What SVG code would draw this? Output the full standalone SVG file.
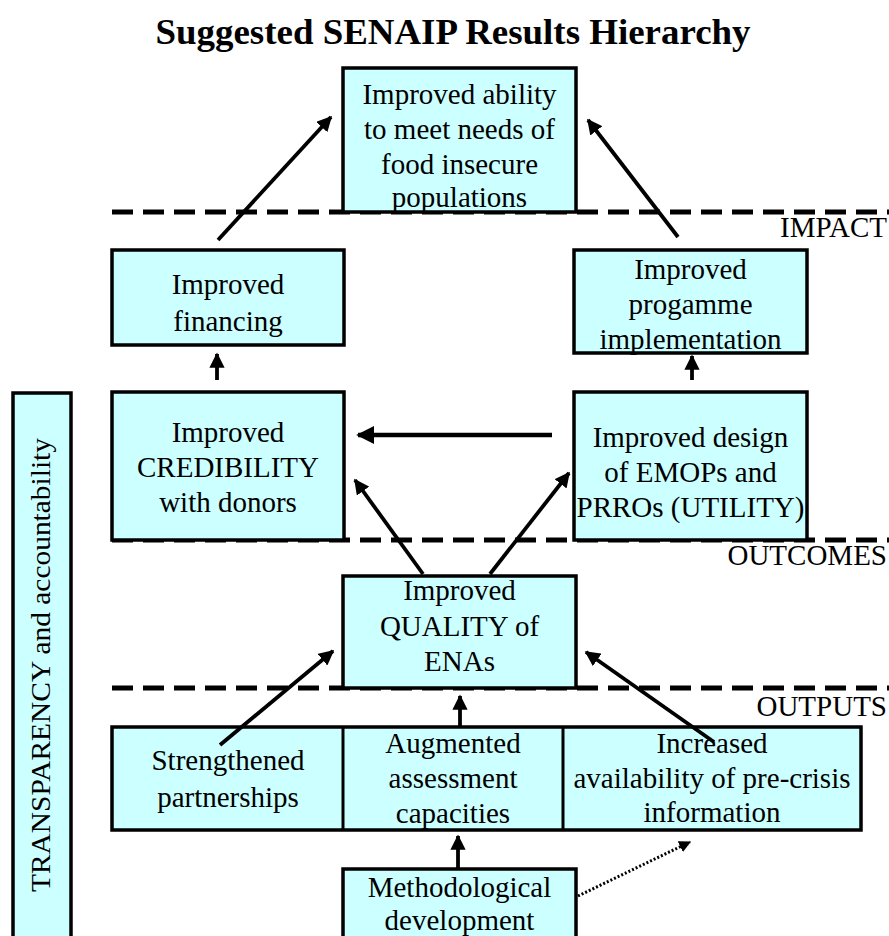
<svg xmlns="http://www.w3.org/2000/svg" width="889" height="936" viewBox="0 0 889 936">
<defs>
<marker id="ah" viewBox="0 0 10 10" refX="9" refY="5" markerWidth="4" markerHeight="4" orient="auto" markerUnits="strokeWidth">
<path d="M0,0 L10,5 L0,10 z" fill="#000"/>
</marker>
<style>
.box{fill:#CCFFFF;stroke:#000;stroke-width:3.5}
.dash{stroke:#000;stroke-width:5;stroke-dasharray:21 10;fill:none}
.ar{stroke:#000;stroke-width:3.8;fill:none;marker-end:url(#ah)}
</style>
</defs>
<rect width="889" height="936" fill="#fff"/>
<g font-family="Liberation Serif, Times New Roman, serif" font-size="29" fill="#000" text-anchor="middle">
<text x="453" y="44" font-size="36" font-weight="bold" textLength="595" lengthAdjust="spacingAndGlyphs">Suggested SENAIP Results Hierarchy</text>

<g id="divisions" text-anchor="end">
<line class="dash" x1="112" y1="212" x2="889" y2="212"/>
<line class="dash" x1="112" y1="540" x2="889" y2="540"/>
<line class="dash" x1="112" y1="688" x2="889" y2="688"/>
<text x="887" y="237">IMPACT</text>
<text x="887" y="565">OUTCOMES</text>
<text x="887" y="716">OUTPUTS</text>
</g>

<g id="n-impact">
<rect class="box" x="343" y="68" width="233" height="144"/>
<text x="459.5" y="104">Improved ability</text>
<text x="459.5" y="139">to meet needs of</text>
<text x="459.5" y="174">food insecure</text>
<text x="459.5" y="207">populations</text>
</g>

<g id="n-financing">
<rect class="box" x="112" y="250" width="232" height="95"/>
<text x="228" y="294">Improved</text>
<text x="228" y="331">financing</text>
</g>

<g id="n-implementation">
<rect class="box" x="574" y="250" width="233" height="103"/>
<text x="690.5" y="279">Improved</text>
<text x="690.5" y="314">progamme</text>
<text x="690.5" y="349">implementation</text>
</g>

<g id="n-credibility">
<rect class="box" x="112" y="392" width="232" height="148"/>
<text x="228" y="442">Improved</text>
<text x="228" y="477">CREDIBILITY</text>
<text x="228" y="512">with donors</text>
</g>

<g id="n-utility">
<rect class="box" x="574" y="392" width="233" height="148"/>
<text x="690.5" y="447">Improved design</text>
<text x="690.5" y="482">of EMOPs and</text>
<text x="690.5" y="517">PRROs (UTILITY)</text>
</g>

<g id="n-quality">
<rect class="box" x="343" y="576" width="233" height="112"/>
<text x="459.5" y="600">Improved</text>
<text x="459.5" y="636">QUALITY of</text>
<text x="459.5" y="671">ENAs</text>
</g>

<g id="n-outputs">
<rect class="box" x="112" y="727" width="749" height="103"/>
<line x1="343" y1="727" x2="343" y2="830" stroke="#000" stroke-width="3"/>
<line x1="563" y1="727" x2="563" y2="830" stroke="#000" stroke-width="3"/>
<text x="228" y="770">Strengthened</text>
<text x="228" y="807">partnerships</text>
<text x="453" y="753">Augmented</text>
<text x="453" y="788">assessment</text>
<text x="453" y="823">capacities</text>
<text x="712" y="753">Increased</text>
<text x="712" y="788">availability of pre-crisis</text>
<text x="712" y="822">information</text>
</g>

<g id="n-method">
<rect class="box" x="343" y="869" width="233" height="80"/>
<text x="459.5" y="897">Methodological</text>
<text x="459.5" y="930">development</text>
</g>

<g id="n-transparency">
<rect class="box" x="13" y="393" width="58" height="560"/>
<text transform="translate(50,665) rotate(-90)" font-size="28" textLength="454" lengthAdjust="spacingAndGlyphs" x="0" y="0">TRANSPARENCY and accountability</text>
</g>
</g>

<g id="connectors">
<line class="ar" x1="218" y1="240" x2="331" y2="117"/>
<line class="ar" x1="678" y1="237" x2="588" y2="120"/>
<line class="ar" x1="217" y1="380" x2="217" y2="354"/>
<line class="ar" x1="692" y1="380" x2="692" y2="356"/>
<line class="ar" x1="552" y1="435" x2="358" y2="435" style="stroke-width:4.5"/>
<line class="ar" x1="423" y1="574" x2="355" y2="480"/>
<line class="ar" x1="490" y1="574" x2="569" y2="473"/>
<line class="ar" x1="220" y1="745" x2="333" y2="651"/>
<line class="ar" x1="460" y1="727" x2="460" y2="696"/>
<line class="ar" x1="714" y1="742" x2="586" y2="652"/>
<line class="ar" x1="458" y1="869" x2="458" y2="836"/>
<line x1="578" y1="896" x2="690" y2="842" style="stroke:#000;stroke-width:3;stroke-dasharray:2 2;marker-end:url(#ah)"/>
</g>
</svg>
